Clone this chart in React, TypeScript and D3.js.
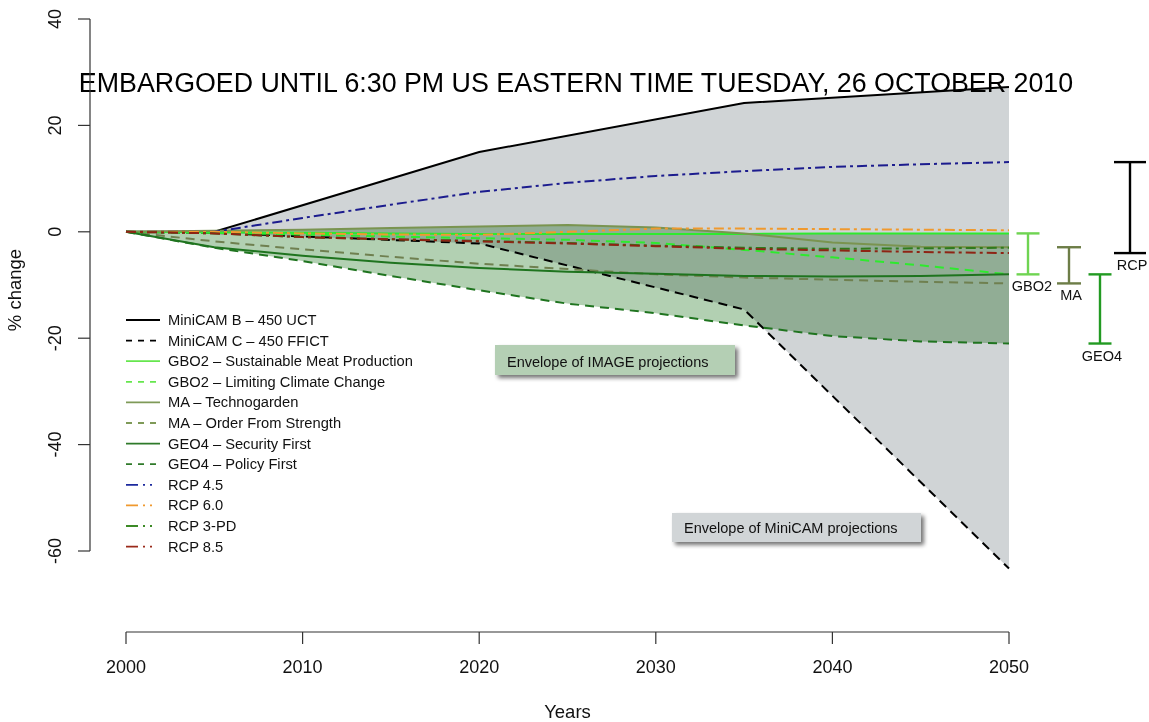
import React from "react";
import * as d3 from "d3";

// ---------- DATA ----------
const years = [2000, 2005, 2010, 2015, 2020, 2025, 2030, 2035, 2040, 2045, 2050];
const miniCamYears = [2000, 2005, 2020, 2035, 2050];

const miniCamB = [0, 0, 15.0, 24.2, 27.2];
const miniCamC = [0, -0.2, -2.2, -14.6, -63.3];

const gbo2Meat = [0, -0.1, -0.2, -0.3, -0.4, -0.4, -0.4, -0.4, -0.3, -0.3, -0.3];
const gbo2Climate = [0, -0.2, -0.5, -0.9, -1.2, -1.5, -2.1, -3.4, -4.8, -6.3, -8.0];
const maTechno = [0, 0.2, 0.4, 0.7, 1.0, 1.3, 0.8, -0.3, -2.0, -2.8, -2.9];
const maOrder = [0, -1.8, -3.3, -4.7, -6.0, -7.0, -8.0, -8.6, -9.0, -9.4, -9.7];
const geo4Security = [0, -2.9, -4.5, -5.8, -6.8, -7.5, -7.9, -8.3, -8.4, -8.3, -8.0];
const geo4Policy = [0, -3.0, -5.5, -8.3, -11.0, -13.5, -15.3, -17.6, -19.6, -20.6, -21.0];

const rcp45 = [0, 0, 2.6, 5.1, 7.5, 9.2, 10.5, 11.4, 12.2, 12.7, 13.1];
const rcp60 = [0, 0, -0.3, -0.5, -0.6, 0.0, 0.6, 0.6, 0.5, 0.4, 0.3];
const rcp3pd = [0, -0.3, -1.0, -1.4, -1.7, -2.1, -2.6, -3.0, -3.2, -3.1, -3.0];
const rcp85 = [0, -0.3, -1.0, -1.4, -1.8, -2.2, -2.7, -3.2, -3.5, -3.8, -4.0];

const xTicks = [2000, 2010, 2020, 2030, 2040, 2050];
const yTicks = [-60, -40, -20, 0, 20, 40];

const titleText = "EMBARGOED UNTIL 6:30 PM US EASTERN TIME TUESDAY, 26 OCTOBER 2010";

type Style = "solid" | "dashed" | "dotdash";
interface Series { name: string; xs: number[]; ys: number[]; color: string; legendColor: string; style: Style; group: string; }

const series: Series[] = [
  { name: "MiniCAM B \u2013 450 UCT", xs: miniCamYears, ys: miniCamB, color: "#000000", legendColor: "#000000", style: "solid", group: "MiniCAM" },
  { name: "MiniCAM C \u2013 450 FFICT", xs: miniCamYears, ys: miniCamC, color: "#000000", legendColor: "#000000", style: "dashed", group: "MiniCAM" },
  { name: "GBO2 \u2013 Sustainable Meat Production", xs: years, ys: gbo2Meat, color: "#2eea2e", legendColor: "#66e64e", style: "solid", group: "GBO2" },
  { name: "GBO2 \u2013 Limiting Climate Change", xs: years, ys: gbo2Climate, color: "#2eea2e", legendColor: "#66e64e", style: "dashed", group: "GBO2" },
  { name: "MA \u2013 Technogarden", xs: years, ys: maTechno, color: "#7a9450", legendColor: "#7f9a58", style: "solid", group: "MA" },
  { name: "MA \u2013 Order From Strength", xs: years, ys: maOrder, color: "#6f8050", legendColor: "#7f9a58", style: "dashed", group: "MA" },
  { name: "GEO4 \u2013 Security First", xs: years, ys: geo4Security, color: "#1f741f", legendColor: "#2f7a2a", style: "solid", group: "GEO4" },
  { name: "GEO4 \u2013 Policy First", xs: years, ys: geo4Policy, color: "#1f741f", legendColor: "#2f7a2a", style: "dashed", group: "GEO4" },
  { name: "RCP 4.5", xs: years, ys: rcp45, color: "#1c1c8e", legendColor: "#1c2a9e", style: "dotdash", group: "RCP" },
  { name: "RCP 6.0", xs: years, ys: rcp60, color: "#f0992e", legendColor: "#f0992e", style: "dotdash", group: "RCP" },
  { name: "RCP 3-PD", xs: years, ys: rcp3pd, color: "#2f7a1c", legendColor: "#3c8a26", style: "dotdash", group: "RCP" },
  { name: "RCP 8.5", xs: years, ys: rcp85, color: "#8e2414", legendColor: "#9a2a1a", style: "dotdash", group: "RCP" },
];

const imageGroups = ["GBO2", "MA", "GEO4"];
const rangeBars = [
  { label: "GBO2", group: "GBO2", color: "#6fd452", px: 1028, cap: 23 },
  { label: "MA", group: "MA", color: "#6d7d47", px: 1069, cap: 24 },
  { label: "GEO4", group: "GEO4", color: "#229a22", px: 1100, cap: 23 },
  { label: "RCP", group: "RCP", color: "#000000", px: 1130, cap: 32 },
];

const dashFor = (s: Style) => (s === "dashed" ? "9 6" : s === "dotdash" ? "10 4 3 4" : undefined);
const legendDash = (s: Style) => (s === "dashed" ? "6 6" : s === "dotdash" ? "12 5 2 5 2 8" : undefined);

const FONT = "'Liberation Sans', Arial, Helvetica, sans-serif";

export default function App() {
  const W = 1149, H = 722;
  const x = d3.scaleLinear().domain([2000, 2050]).range([126, 1009]);
  const y = d3.scaleLinear().domain([-60, 40]).range([551, 19]);

  const line = d3.line<[number, number]>().x((d) => x(d[0])).y((d) => y(d[1]));

  // MiniCAM envelope
  const bPts: [number, number][] = miniCamYears.map((yr, i) => [yr, miniCamB[i]]);
  const cPts: [number, number][] = miniCamYears.map((yr, i) => [yr, miniCamC[i]]);
  const miniEnv = "M" + [...bPts, ...cPts.slice().reverse()].map((p) => `${x(p[0])},${y(p[1])}`).join("L") + "Z";

  // IMAGE envelope (max/min of GBO2, MA, GEO4)
  const imgSeries = series.filter((s) => imageGroups.includes(s.group));
  const hi = years.map((yr, i) => [yr, d3.max(imgSeries, (s) => s.ys[i]) as number] as [number, number]);
  const lo = years.map((yr, i) => [yr, d3.min(imgSeries, (s) => s.ys[i]) as number] as [number, number]);
  const imgEnv = "M" + [...hi, ...lo.slice().reverse()].map((p) => `${x(p[0])},${y(p[1])}`).join("L") + "Z";

  const legendX0 = 126, legendX1 = 160, legendTextX = 168, legendY0 = 320, legendDy = 20.6;

  return (
    <svg width={W} height={H} style={{ position: "absolute", left: 0, top: 0, background: "#fff" }} fontFamily={FONT}>
      <defs>
        <filter id="shadow" x="-10%" y="-30%" width="130%" height="180%">
          <feGaussianBlur in="SourceAlpha" stdDeviation="2" />
          <feOffset dx="3" dy="3" result="ob" />
          <feComponentTransfer><feFuncA type="linear" slope="0.55" /></feComponentTransfer>
          <feMerge><feMergeNode /><feMergeNode in="SourceGraphic" /></feMerge>
        </filter>
      </defs>
      <rect x={0} y={0} width={W} height={H} fill="#fff" />

      {/* envelopes */}
      <path d={miniEnv} fill="#d0d4d6" stroke="none" />
      <path d={imgEnv} fill="#b2d0b2" stroke="none" style={{ mixBlendMode: "multiply" }} />

      {/* title */}
      <text x={576} y={92} textAnchor="middle" fontSize={26.8} fill="#000">{titleText}</text>

      {/* series lines */}
      {series.map((s) => (
        <path key={s.name} d={line(s.xs.map((yr, i) => [yr, s.ys[i]] as [number, number])) || ""}
          fill="none" stroke={s.color} strokeWidth={2} strokeDasharray={dashFor(s.style)} />
      ))}

      {/* envelope label boxes */}
      <g filter="url(#shadow)">
        <rect x={495} y={345} width={240} height={30} fill="#b4cfb4" />
      </g>
      <text x={507} y={367} fontSize={14.5} fill="#111">Envelope of IMAGE projections</text>
      <g filter="url(#shadow)">
        <rect x={672} y={513} width={249} height={29} fill="#d1d5d7" />
      </g>
      <text x={684} y={533} fontSize={14.5} fill="#111">Envelope of MiniCAM projections</text>

      {/* y axis */}
      <line x1={90} x2={90} y1={y(-60)} y2={y(40)} stroke="#333" strokeWidth={1.2} />
      {yTicks.map((t) => (
        <g key={t}>
          <line x1={78} x2={90} y1={y(t)} y2={y(t)} stroke="#333" strokeWidth={1.2} />
          <text transform={`translate(${61},${y(t)}) rotate(-90)`} textAnchor="middle" fontSize={18} fill="#111">{t}</text>
        </g>
      ))}
      <text transform={`translate(${21},${290}) rotate(-90)`} textAnchor="middle" fontSize={18.5} fill="#111">% change</text>

      {/* x axis */}
      <line x1={x(2000)} x2={x(2050)} y1={632} y2={632} stroke="#333" strokeWidth={1.2} />
      {xTicks.map((t) => (
        <g key={t}>
          <line x1={x(t)} x2={x(t)} y1={632} y2={644} stroke="#333" strokeWidth={1.2} />
          <text x={x(t)} y={673} textAnchor="middle" fontSize={18} fill="#111">{t}</text>
        </g>
      ))}
      <text x={x(2025)} y={718} textAnchor="middle" fontSize={18.5} fill="#111">Years</text>

      {/* legend */}
      {series.map((s, i) => {
        const ly = legendY0 + i * legendDy;
        return (
          <g key={"lg" + s.name}>
            <line x1={legendX0} x2={legendX1} y1={ly} y2={ly} stroke={s.legendColor} strokeWidth={1.8} strokeDasharray={legendDash(s.style)} />
            <text x={legendTextX} y={ly + 5} fontSize={14.7} fill="#111">{s.name}</text>
          </g>
        );
      })}

      {/* range bars at 2050 */}
      {rangeBars.map((b) => {
        const vals = series.filter((s) => s.group === b.group).map((s) => s.ys[s.ys.length - 1]);
        const top = d3.max(vals) as number, bot = d3.min(vals) as number;
        const labelY = y(bot) + 17;
        return (
          <g key={b.label}>
            <line x1={b.px} x2={b.px} y1={y(top)} y2={y(bot)} stroke={b.color} strokeWidth={2.4} />
            <line x1={b.px - b.cap / 2} x2={b.px + b.cap / 2} y1={y(top)} y2={y(top)} stroke={b.color} strokeWidth={2.4} />
            <line x1={b.px - b.cap / 2} x2={b.px + b.cap / 2} y1={y(bot)} y2={y(bot)} stroke={b.color} strokeWidth={2.4} />
            <text x={b.label === "GBO2" ? b.px + 4 : b.px + 2} y={labelY} textAnchor="middle" fontSize={14.5} fill="#111">{b.label}</text>
          </g>
        );
      })}
    </svg>
  );
}
